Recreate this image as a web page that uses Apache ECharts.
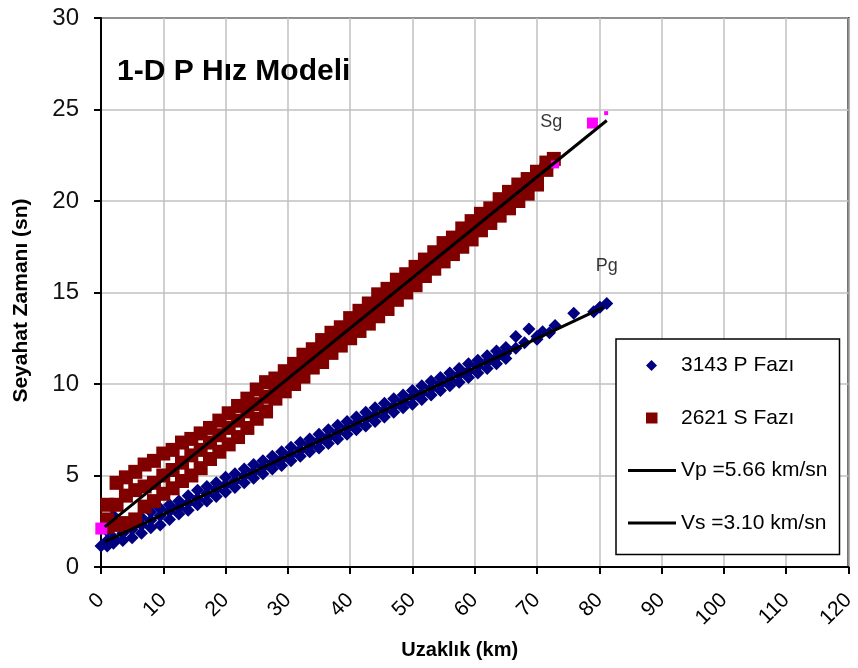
<!DOCTYPE html>
<html>
<head>
<meta charset="utf-8">
<script src="https://cdn.jsdelivr.net/npm/echarts@6/dist/echarts.min.js"></script>
<style>
  html, body { margin: 0; padding: 0; background: #fff; }
  #chart { width: 858px; height: 668px; }
</style>
</head>
<body>
<div id="chart"></div>
<script>
// P phase picks (distance km, travel time s)
var pPhase = [
  [0.0, 1.15],
  [1.0, 1.95], [1.0, 1.45], [1.0, 1.15],
  [2.0, 2.8], [2.0, 1.6], [2.0, 1.3],
  [3.5, 2.3], [3.5, 1.85], [3.5, 1.45],
  [5.0, 2.45], [5.0, 2.05], [5.0, 1.6],
  [6.5, 2.7], [6.5, 2.3], [6.5, 1.85],
  [8.0, 3.0], [8.0, 2.55], [8.0, 2.15],
  [9.5, 3.2], [9.5, 2.8], [9.5, 2.3],
  [11.0, 3.4], [11.0, 3.05], [11.0, 2.6],
  [12.5, 3.6], [12.5, 3.25], [12.5, 2.9],
  [14.0, 3.9], [14.0, 3.5], [14.0, 3.1],
  [15.5, 4.2], [15.5, 3.75], [15.5, 3.4],
  [17.0, 4.4], [17.0, 4.0], [17.0, 3.6],
  [18.5, 4.6], [18.5, 4.25], [18.5, 3.85],
  [20.0, 4.9], [20.0, 4.5], [20.0, 4.1],
  [21.5, 5.1], [21.5, 4.7], [21.5, 4.35],
  [23.0, 5.35], [23.0, 5.0], [23.0, 4.6],
  [24.5, 5.6], [24.5, 5.2], [24.5, 4.85],
  [26.0, 5.8], [26.0, 5.45], [26.0, 5.1],
  [27.5, 6.05], [27.5, 5.7], [27.5, 5.35],
  [29.0, 6.3], [29.0, 5.9], [29.0, 5.55],
  [30.5, 6.55], [30.5, 6.15], [30.5, 5.8],
  [32.0, 6.8], [32.0, 6.4], [32.0, 6.05],
  [33.5, 7.0], [33.5, 6.65], [33.5, 6.3],
  [35.0, 7.25], [35.0, 6.9], [35.0, 6.5],
  [36.5, 7.5], [36.5, 7.1], [36.5, 6.75],
  [38.0, 7.75], [38.0, 7.35], [38.0, 7.0],
  [39.5, 7.95], [39.5, 7.6], [39.5, 7.25],
  [41.0, 8.2], [41.0, 7.85], [41.0, 7.5],
  [42.5, 8.45], [42.5, 8.1], [42.5, 7.7],
  [44.0, 8.7], [44.0, 8.3], [44.0, 7.95],
  [45.5, 8.95], [45.5, 8.55], [45.5, 8.2],
  [47.0, 9.2], [47.0, 8.8], [47.0, 8.45],
  [48.5, 9.4], [48.5, 9.05], [48.5, 8.7],
  [50.0, 9.65], [50.0, 9.3], [50.0, 8.9],
  [51.5, 9.9], [51.5, 9.5], [51.5, 9.15],
  [53.0, 10.15], [53.0, 9.75], [53.0, 9.4],
  [54.5, 10.35], [54.5, 10.0], [54.5, 9.65],
  [56.0, 10.6], [56.0, 10.25], [56.0, 9.9],
  [57.5, 10.85], [57.5, 10.5], [57.5, 10.1],
  [59.0, 11.1], [59.0, 10.7], [59.0, 10.35],
  [60.5, 11.3], [60.5, 10.95], [60.5, 10.6],
  [62.0, 11.55], [62.0, 11.2], [62.0, 10.85],
  [63.5, 11.8], [63.5, 11.45], [63.5, 11.1],
  [65.0, 12.0], [65.0, 11.7], [65.0, 11.4],
  [66.6, 12.6], [66.6, 11.95],
  [68.0, 12.25], [68.7, 13.0],
  [70.0, 12.6], [70.0, 12.45], [70.9, 12.86],
  [72.0, 12.8], [72.9, 13.2],
  [75.9, 13.86], [79.1, 13.95], [80.1, 14.2], [81.2, 14.4]
];

// S phase picks
var sPhase = [
  [1.0, 3.4], [1.0, 2.6], [1.0, 2.2],
  [2.5, 4.6], [2.5, 3.4], [2.5, 2.3],
  [4.0, 4.9], [4.0, 3.9], [4.0, 2.4],
  [5.5, 5.2], [5.5, 4.2], [5.5, 2.6],
  [7.0, 5.6], [7.0, 4.4], [7.0, 3.3],
  [8.5, 5.8], [8.5, 4.6], [8.5, 3.6],
  [10.0, 6.2], [10.0, 5.0], [10.0, 4.0],
  [11.5, 6.4], [11.5, 5.3], [11.5, 4.3],
  [13.0, 6.8], [13.0, 5.7], [13.0, 4.7],
  [14.5, 7.0], [14.5, 6.1], [14.5, 5.0],
  [16.0, 7.3], [16.0, 6.4], [16.0, 5.4],
  [17.5, 7.6], [17.5, 6.8], [17.5, 5.9],
  [19.0, 8.0], [19.0, 7.2], [19.0, 6.3],
  [20.5, 8.4], [20.5, 7.6], [20.5, 6.7],
  [22.0, 8.8], [22.0, 8.0], [22.0, 7.1],
  [23.5, 9.2], [23.5, 8.5], [23.5, 7.6],
  [25.0, 9.7], [25.0, 8.9], [25.0, 8.1],
  [26.5, 10.1], [26.5, 9.3], [26.5, 8.5],
  [28.0, 10.3], [28.0, 9.7], [28.0, 9.2],
  [29.5, 10.7], [29.5, 10.1], [29.5, 9.6],
  [31.0, 11.1], [31.0, 10.6], [31.0, 10.0],
  [32.5, 11.6], [32.5, 11.0], [32.5, 10.4],
  [34.0, 11.9], [34.0, 11.4], [34.0, 10.9],
  [35.5, 12.4], [35.5, 11.8], [35.5, 11.2],
  [37.0, 12.8], [37.0, 12.2], [37.0, 11.7],
  [38.5, 13.1], [38.5, 12.6], [38.5, 12.1],
  [40.0, 13.6], [40.0, 13.0], [40.0, 12.5],
  [41.5, 14.0], [41.5, 13.4], [41.5, 12.9],
  [43.0, 14.4], [43.0, 13.9], [43.0, 13.3],
  [44.5, 14.9], [44.5, 14.3], [44.5, 13.7],
  [46.0, 15.2], [46.0, 14.7], [46.0, 14.1],
  [47.5, 15.7], [47.5, 15.1], [47.5, 14.6],
  [49.0, 16.0], [49.0, 15.5], [49.0, 15.0],
  [50.5, 16.4], [50.5, 15.9], [50.5, 15.4],
  [52.0, 16.8], [52.0, 16.3], [52.0, 15.9],
  [53.5, 17.2], [53.5, 16.7], [53.5, 16.3],
  [55.0, 17.7], [55.0, 17.2], [55.0, 16.7],
  [56.5, 18.0], [56.5, 17.6], [56.5, 17.1],
  [58.0, 18.5], [58.0, 18.0], [58.0, 17.5],
  [59.5, 18.9], [59.5, 18.4], [59.5, 17.9],
  [61.0, 19.3], [61.0, 18.8], [61.0, 18.4],
  [62.5, 19.6], [62.5, 19.2], [62.5, 18.8],
  [64.0, 20.1], [64.0, 19.6], [64.0, 19.2],
  [65.5, 20.5], [65.5, 20.0], [65.5, 19.6],
  [67.0, 20.9], [67.0, 20.5], [67.0, 20.0],
  [68.5, 21.2], [68.5, 20.9], [68.5, 20.4],
  [70.0, 21.6], [70.0, 21.3], [70.0, 20.9],
  [71.5, 22.1], [71.5, 21.7],
  [72.7, 22.3]
];

// magenta marks
var pinkMarks = [[0.05, 2.1, 12], [72.9, 22.0, 8], [78.9, 24.26, 11], [81.1, 24.8, 4]];

// fitted lines
var vpLine = [[0.6, 1.37], [80.7, 14.2]];
var vsLine = [[0.6, 2.19], [81.2, 24.4]];

// phase tags
var phaseTags = [[72.3, 24.3, 'Sg'], [81.2, 16.45, 'Pg']];

var xTicks = { min: 0, max: 120, step: 10 };
var yTicks = { min: 0, max: 30, step: 5 };

var legendNames = ['3143 P Fazı', '2621 S Fazı', 'Vp =5.66 km/sn', 'Vs =3.10 km/sn'];

var font = 'Liberation Sans, Arial, sans-serif';
// legend icons drawn inside a 48 x 11 box; the two empty segments hold the box width
var lineIcon = 'path://M0 0H48V3H0Z';
var diamondIcon = 'path://M0 5.5L0 5.5M48 5.5L48 5.5M23.5 0L29 5.5L23.5 11L18 5.5Z';
var squareIcon = 'path://M0 5.5L0 5.5M48 5.5L48 5.5M18 0H29.5V11H18Z';
var chart = echarts.init(document.getElementById('chart'));

var option = {
  animation: false,
  backgroundColor: '#fff',
  title: {
    text: '1-D P Hız Modeli',
    left: 117,
    top: 57,
    padding: 0,
    textStyle: { fontFamily: font, fontSize: 30, fontWeight: 'bold', color: '#000' }
  },
  grid: {
    left: 101, right: 4, top: 18, bottom: 101,
    show: true, borderColor: '#000', borderWidth: 2, backgroundColor: 'transparent'
  },
  legend: {
    orient: 'vertical',
    left: 616,
    top: 339,
    padding: [16, 12, 21, 12],
    itemWidth: 48,
    itemHeight: 11,
    itemGap: 31.5,
    backgroundColor: '#fff',
    borderColor: '#000',
    borderWidth: 1.5,
    textStyle: { fontFamily: font, fontSize: 21, color: '#000' },
    data: [
      { name: legendNames[0], icon: diamondIcon },
      { name: legendNames[1], icon: squareIcon },
      { name: legendNames[2], icon: lineIcon },
      { name: legendNames[3], icon: lineIcon }
    ]
  },
  xAxis: {
    type: 'value',
    min: xTicks.min, max: xTicks.max, interval: xTicks.step,
    name: 'Uzaklık (km)',
    nameLocation: 'middle',
    nameGap: 73,
    nameTextStyle: { fontFamily: font, fontSize: 20, fontWeight: 'bold', color: '#000', padding: [0, 30, 0, 0] },
    axisLine: { lineStyle: { color: '#000', width: 2 } },
    axisTick: { show: true, inside: false, length: 7, lineStyle: { color: '#000', width: 2 } },
    axisLabel: { rotate: 45, margin: 30, fontFamily: font, fontSize: 21, color: '#000' },
    splitLine: { show: true, lineStyle: { color: '#c0c0c0', width: 1.5 } }
  },
  yAxis: {
    type: 'value',
    min: yTicks.min, max: yTicks.max, interval: yTicks.step,
    name: 'Seyahat Zamanı (sn)',
    nameLocation: 'middle',
    nameGap: 69,
    nameTextStyle: { fontFamily: font, fontSize: 21, fontWeight: 'bold', color: '#000', padding: [0, 16, 0, 0] },
    axisLine: { show: true, lineStyle: { color: '#000', width: 2 } },
    axisTick: { show: true, inside: false, length: 7, lineStyle: { color: '#000', width: 2 } },
    axisLabel: { margin: 22, fontFamily: font, fontSize: 24, color: '#111' },
    splitLine: { show: true, lineStyle: { color: '#c0c0c0', width: 1.5 } }
  },
  series: [
    {
      name: legendNames[0],
      type: 'scatter',
      symbol: 'diamond',
      symbolSize: 13,
      itemStyle: { color: '#000080', opacity: 1 },
      data: pPhase,
      z: 2
    },
    {
      name: legendNames[1],
      type: 'scatter',
      symbol: 'rect',
      symbolSize: 14,
      itemStyle: { color: '#800000', opacity: 1 },
      data: sPhase,
      z: 3
    },
    {
      name: 'pink',
      type: 'scatter',
      symbol: 'rect',
      symbolSize: function (v) { return v[2]; },
      itemStyle: { color: '#ff00ff', opacity: 1 },
      data: pinkMarks,
      z: 4
    },
    {
      name: legendNames[2],
      type: 'line',
      symbol: 'none',
      lineStyle: { color: '#000', width: 3 },
      itemStyle: { color: '#000' },
      data: vpLine,
      z: 5
    },
    {
      name: legendNames[3],
      type: 'line',
      symbol: 'none',
      lineStyle: { color: '#000', width: 3 },
      itemStyle: { color: '#000' },
      data: vsLine,
      z: 5
    },
    {
      name: 'tags',
      type: 'scatter',
      symbolSize: 0,
      data: phaseTags,
      label: {
        show: true,
        position: 'inside',
        formatter: function (p) { return p.value[2]; },
        fontFamily: font, fontSize: 18, color: '#000'
      },
      z: 6
    }
  ]
};
chart.setOption(option);
</script>
</body>
</html>
